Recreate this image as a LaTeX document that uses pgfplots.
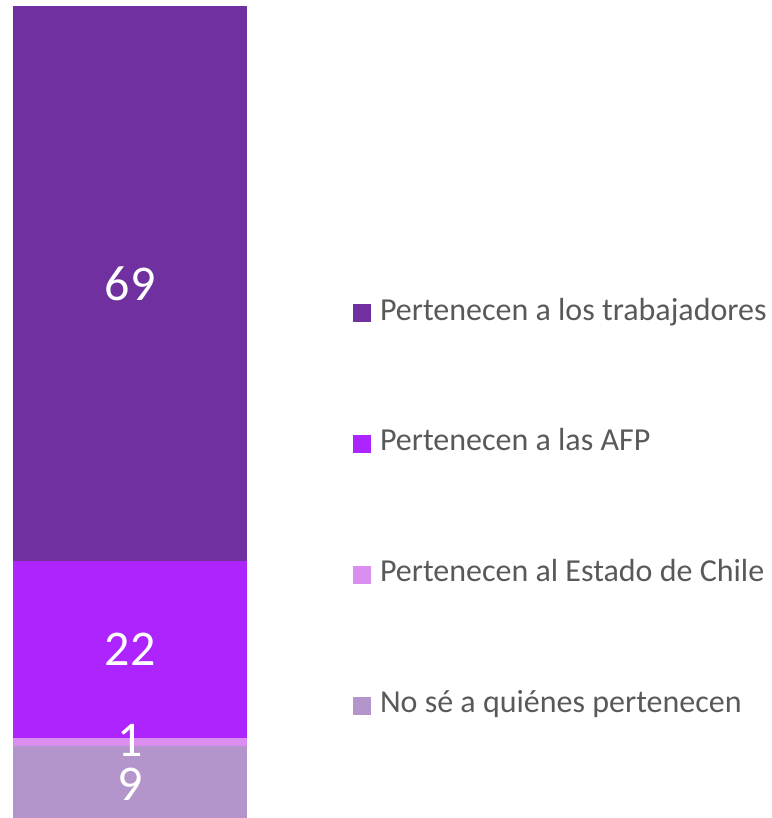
\documentclass[border=0pt]{standalone}
\usepackage{pgfplots}
\pgfplotsset{compat=1.18}
\usepackage{fontspec}
\setmainfont{Carlito}
\definecolor{cTrab}{HTML}{7030A0}
\definecolor{cAFP}{HTML}{AE24FF}
\definecolor{cEst}{HTML}{DA8FF0}
\definecolor{cNo}{HTML}{B395CB}
\definecolor{txt}{HTML}{595959}
\begin{document}
\begin{tikzpicture}
\begin{axis}[
  width=772bp, height=818bp, scale only axis,
  xmin=0, xmax=772, ymin=0, ymax=101.75,
  axis lines=none, ticks=none,
  ybar stacked, bar width=234,
  clip=false,
  reverse legend,
  point meta=explicit symbolic,
  nodes near coords={\pgfplotspointmeta},
  every node near coord/.style={anchor=center, text=white, font=\fontsize{50bp}{60bp}\selectfont, inner sep=0pt},
  legend image code/.code={\fill[#1,draw=none] (0bp,-9bp) rectangle (18bp,9bp);},
  legend style={at={(rel axis cs:0.4573,0.6356)}, anchor=north west, draw=none, fill=none,
    font=\fontsize{32bp}{36bp}\selectfont, text=txt, row sep=100.9bp,
    inner sep=0pt, outer sep=0pt,
    nodes={inner sep=0pt, text height=22bp, text depth=8bp, anchor=west},
    /tikz/every odd column/.style={column sep=9bp}},
  legend cell align=left,
]
\addplot[fill=cNo, draw=none, every node near coord/.append style={yshift=-2bp}] coordinates {(130,9) [9]};
\addplot[fill=cEst, draw=none, every node near coord/.append style={yshift=1bp}] coordinates {(130,1) [1]};
\addplot[fill=cAFP, draw=none] coordinates {(130,22) [22]};
\addplot[fill=cTrab, draw=none] coordinates {(130,69) [69]};
\legend{No sé a quiénes pertenecen, Pertenecen al Estado de Chile, Pertenecen a las AFP, Pertenecen a los trabajadores}
\end{axis}
\useasboundingbox (current axis.south west) rectangle (current axis.north east);
\end{tikzpicture}
\end{document}
